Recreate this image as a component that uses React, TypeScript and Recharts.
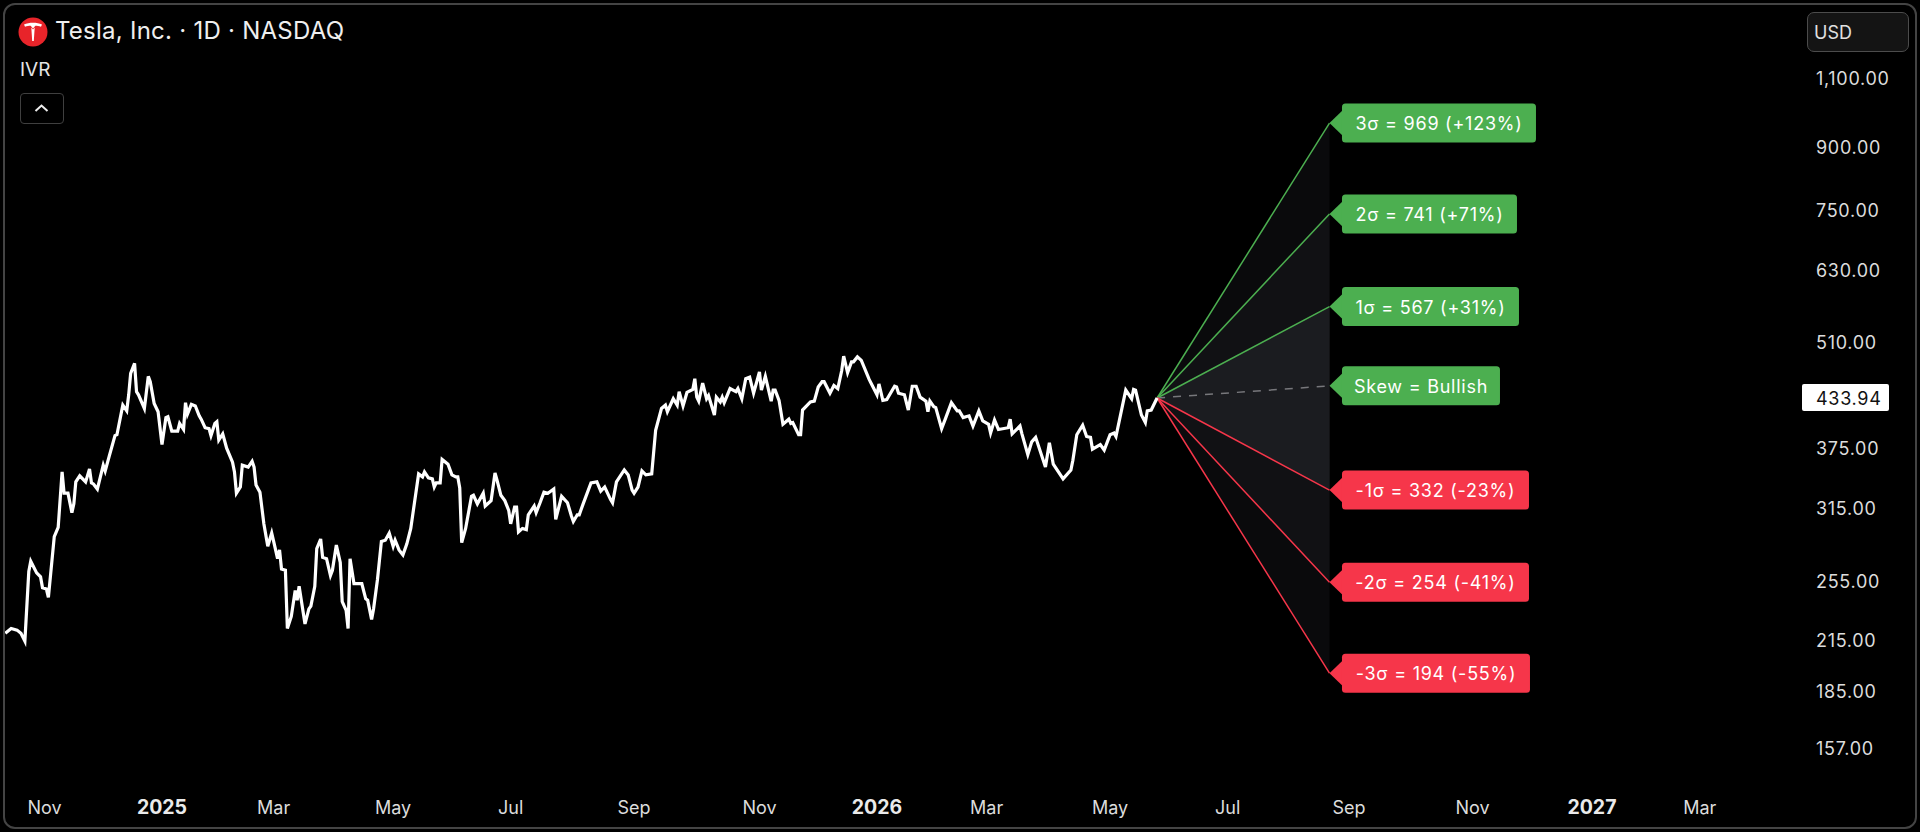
import React from 'react'
import { ComposedChart, Area, Line, XAxis, YAxis, ReferenceDot } from 'recharts'

// days counted from 2025-01-01
const dayOffsets = [
  -80, -77, -74, -72, -70, -68, -67, -64, -62, -61,
  -59, -58, -55, -53, -51, -50, -48, -46, -45, -44,
  -42, -39, -37, -36, -35, -33, -30, -29, -27, -24,
  -23, -20, -18, -17, -16, -14, -13, -12, -9, -7,
  -6, -4, -2, 0, 2, 3, 5, 8, 9, 11,
  12, 13, 15, 17, 19, 20, 22, 24, 25, 27,
  28, 29, 31, 33, 36, 37, 38, 40, 41, 44,
  46, 47, 48, 50, 52, 54, 56, 57, 59, 60,
  61, 63, 64, 66, 68, 69, 70, 73, 75, 76,
  78, 79, 81, 82, 84, 86, 87, 89, 91, 92,
  94, 95, 96, 98, 102, 104, 105, 107, 108, 110,
  112, 114, 116, 118, 119, 121,
  123, 125, 127, 131, 133, 134, 136, 138, 139, 140,
  142, 143, 146, 148, 150, 151, 152, 153, 155, 158,
  159, 161, 164, 165, 168, 170, 171, 173, 175, 177,
  178, 180, 181, 182, 184, 186, 187, 190, 191, 193,
  195, 197, 200, 201, 204, 207, 209, 210, 212, 213,
  215, 219, 222, 224, 226, 229, 230, 232, 236, 238,
  240, 241, 243, 245, 247, 250, 252, 255, 257, 258,
  261, 263, 264, 266, 268, 271, 272, 273, 274, 276,
  278, 279, 282, 283, 285, 286, 287, 290, 293, 294,
  296, 298, 300, 302, 305, 306, 308, 311, 312, 313,
  315, 317, 320, 321, 322, 325, 326,
  327, 331, 333, 335, 337, 338, 341, 343, 345, 347,
  348, 350, 352, 353, 355, 357, 361, 362, 365, 366,
  368, 370, 374, 375, 376, 379, 381, 383, 385, 387,
  390, 391, 392, 394, 395, 398, 400, 403, 406, 407,
  409, 412, 414, 417, 419, 422, 423, 425, 427, 432,
  433, 434, 438,
  439, 442, 444, 446, 451, 453, 455, 460, 464, 465,
  467, 470, 472, 474, 475, 479, 481, 484, 486, 487,
  492, 495, 496, 497, 500, 502, 503, 505, 508,
]

const closes = [
  219, 222, 221, 219, 214, 262, 270, 261, 258, 250,
  249, 243, 290, 298, 350, 329, 329, 311, 319, 340,
  346, 340, 353, 339, 338, 333, 357, 351, 366, 389,
  390, 425, 418, 438, 466, 480, 442, 438, 421, 462,
  455, 427, 417, 379, 410, 411, 394, 394, 403, 396,
  428, 414, 426, 424, 412, 408, 398, 397, 389, 403,
  405, 384, 391, 375, 360, 350, 329, 335, 357, 355,
  361, 355, 337, 330, 301, 282, 293, 286, 272, 279,
  264, 263, 222, 230, 248, 241, 251, 225, 235, 237,
  251, 280, 288, 273, 272, 259, 263, 283, 269, 240,
  234, 222, 272, 253, 253, 242, 241, 228, 235, 256,
  286, 287, 293, 282, 287, 279,
  275, 284, 297, 348, 345, 350, 344, 343, 335, 339,
  339, 363, 358, 347, 345, 345, 334, 285, 297, 326,
  327, 319, 329, 317, 322, 349, 342, 327, 322, 313,
  301, 316, 316, 294, 297, 296, 309, 317, 311, 320,
  330, 329, 333, 305, 326, 320, 308, 303, 309, 309,
  319, 339, 340, 331, 335, 323, 320, 340, 352, 347,
  332, 329, 335, 351, 347, 348, 395, 421, 425, 417,
  433, 425, 442, 424, 441, 445, 459, 435, 430, 453,
  433, 437, 413, 435, 429, 435, 428, 446, 442, 446,
  433, 459, 461, 440, 468, 444, 462, 430, 444, 444,
  431, 402, 408, 403, 404, 390, 390,
  419, 429, 430, 448, 455, 455, 440, 450, 446, 470,
  490, 467, 482, 482, 489, 484, 458, 453, 438, 452,
  431, 432, 449, 448, 440, 438, 419, 449, 449, 435,
  430, 417, 430, 423, 422, 397, 409, 428, 418, 418,
  410, 412, 400, 418, 406, 402, 392, 407, 396, 398,
  408, 391, 400,
  391, 368, 382, 387, 355, 381, 358, 343, 352, 362,
  390, 401, 388, 387, 374, 379, 373, 390, 392, 388,
  444, 433, 445, 444, 413, 404, 418, 419, 433.94,
]

const lastClose = 433.94
const fanEndDay = 596
const fanKeys = ['up3', 'up2', 'up1', 'skew', 'down1', 'down2', 'down3']
const fanTargets = [965, 741, 566, 449.5, 332, 254, 195]
const fanLabels = [
  '3σ = 969 (+123%)',
  '2σ = 741 (+71%)',
  '1σ = 567 (+31%)',
  'Skew = Bullish',
  '-1σ = 332 (-23%)',
  '-2σ = 254 (-41%)',
  '-3σ = 194 (-55%)',
]

const priceTicks = [1100, 900, 750, 630, 510, lastClose, 375, 315, 255, 215, 185, 157]
const tickDays = [-60, 0, 57, 118, 178, 241, 305, 365, 421, 484, 544, 606, 669, 730, 785]
const tickLabels = ['Nov', '2025', 'Mar', 'May', 'Jul', 'Sep', 'Nov', '2026', 'Mar', 'May', 'Jul', 'Sep', 'Nov', '2027', 'Mar']

const GREEN = '#4CAF50'
const RED = '#F6364A'
const FONT = 'Inter, sans-serif'
const flagColors = [GREEN, GREEN, GREEN, GREEN, RED, RED, RED]
const flagWidths = [194, 175, 177, 158, 187, 187, 188]

const originRow: any = { day: 508, close: lastClose }
const endRow: any = { day: fanEndDay }
fanKeys.forEach((k, i) => {
  originRow[k] = lastClose
  endRow[k] = fanTargets[i]
})
originRow.band1 = [lastClose, lastClose]
originRow.band2 = [lastClose, lastClose]
originRow.band3 = [lastClose, lastClose]
endRow.band1 = [fanTargets[4], fanTargets[2]]
endRow.band2 = [fanTargets[5], fanTargets[1]]
endRow.band3 = [fanTargets[6], fanTargets[0]]

const chartData = [
  ...dayOffsets.slice(0, -1).map((day, i) => ({ day, close: closes[i] })),
  originRow,
  endRow,
]

const fmtPrice = (v: number) =>
  v.toLocaleString('en-US', { minimumFractionDigits: 2, maximumFractionDigits: 2 })

const PriceTick = ({ x, y, payload }: any) => {
  const last = payload.value === lastClose
  return (
    <g>
      {last && <rect x={x - 6} y={y - 14} width={87} height={27} rx={2} fill="#fff" />}
      <text
        x={x + 8}
        y={y + 0.5}
        dominantBaseline="central"
        fontFamily={FONT}
        fontSize={18}
        letterSpacing={0.7}
        fill={last ? '#111' : '#dcdcdc'}
      >
        {fmtPrice(payload.value)}
      </text>
    </g>
  )
}

const TimeTick = ({ x, y, payload }: any) => {
  const label = tickLabels[tickDays.indexOf(payload.value)]
  const year = /^\d+$/.test(label)
  return (
    <text
      x={x}
      y={y + 27}
      textAnchor="middle"
      dominantBaseline="central"
      fontFamily={FONT}
      fontSize={year ? 19.5 : 18}
      fontWeight={year ? 700 : 400}
      fill={year ? '#eaeaea' : '#dcdcdc'}
    >
      {label}
    </text>
  )
}

const flagShape = (i: number) => ({ cx, cy }: any) => {
  const left = cx + 12.5
  return (
    <g>
      <path d={`M${cx} ${cy}L${left + 1} ${cy - 13}V${cy + 13}Z`} fill={flagColors[i]} />
      <rect x={left} y={cy - 19.5} width={flagWidths[i]} height={39} rx={3.5} fill={flagColors[i]} />
      <text
        x={left + flagWidths[i] / 2}
        y={cy + 0.5}
        textAnchor="middle"
        dominantBaseline="central"
        fontFamily={FONT}
        fontSize={18}
        letterSpacing={0.75}
        fill="#fff"
      >
        {fanLabels[i]}
      </text>
    </g>
  )
}

const TeslaMark = () => (
  <svg width={30} height={30} viewBox="-15 -15 30 30" style={{ position: 'absolute', left: 18, top: 17 }}>
    <circle r={14.5} fill="#E8242A" />
    <path d="M-9 -7.5C-4 -10 4 -10 9 -7.5L8 -5.2C6 -6 4 -6.3 2.4 -6.3L0 -3.4L-2.4 -6.3C-4 -6.3 -6 -6 -8 -5.2Z" fill="#fff" />
    <path d="M-1.7 -4.4L0 -2.5L1.7 -4.4L0.8 9H-0.8Z" fill="#fff" />
  </svg>
)

export default function App() {
  return (
    <div style={{ position: 'fixed', left: 0, top: 0, width: 1920, height: 832, background: '#000', overflow: 'hidden' }}>
      <ComposedChart width={1920} height={832} data={chartData} margin={{ top: 0, right: 0, bottom: 0, left: 0 }}>
        <XAxis
          dataKey="day"
          type="number"
          domain={[-82.7, 836.2]}
          ticks={tickDays}
          interval={0}
          height={60}
          axisLine={false}
          tickLine={false}
          tick={<TimeTick />}
        />
        <YAxis
          orientation="right"
          type="number"
          scale="log"
          domain={[146.3, 1380]}
          ticks={priceTicks}
          interval={0}
          width={120}
          axisLine={false}
          tickLine={false}
          tick={<PriceTick />}
          allowDataOverflow
        />
        <Area dataKey="band3" stroke="none" fill="#0A0A0C" fillOpacity={1} isAnimationActive={false} dot={false} activeDot={false} />
        <Area dataKey="band2" stroke="none" fill="#111114" fillOpacity={1} isAnimationActive={false} dot={false} activeDot={false} />
        <Area dataKey="band1" stroke="none" fill="#1B1C20" fillOpacity={1} isAnimationActive={false} dot={false} activeDot={false} />
        {fanKeys.map((k, i) => (
          <Line
            key={k}
            dataKey={k}
            stroke={k === 'skew' ? '#77777B' : flagColors[i]}
            strokeWidth={1.5}
            strokeDasharray={k === 'skew' ? '8 8' : undefined}
            dot={false}
            activeDot={false}
            isAnimationActive={false}
          />
        ))}
        <Line dataKey="close" stroke="#fff" strokeWidth={3.2} dot={false} activeDot={false} isAnimationActive={false} />
        {fanKeys.map((k, i) => (
          <ReferenceDot key={k} x={fanEndDay} y={fanTargets[i]} shape={flagShape(i)} />
        ))}
      </ComposedChart>

      <div style={{ position: 'absolute', left: 3, top: 3, width: 1910, height: 822, border: '2px solid #444', borderRadius: 12, pointerEvents: 'none' }} />
      <TeslaMark />
      <div style={{ position: 'absolute', left: 55, top: 16, fontFamily: FONT, fontSize: 24, letterSpacing: 0.25, lineHeight: '30px', color: '#efefef', whiteSpace: 'nowrap' }}>
        Tesla, Inc. · 1D · NASDAQ
      </div>
      <div style={{ position: 'absolute', left: 20, top: 59, fontFamily: FONT, fontSize: 19, lineHeight: '22px', color: '#e4e4e4' }}>IVR</div>
      <div style={{ position: 'absolute', left: 20, top: 93, width: 44, height: 31, boxSizing: 'border-box', border: '1.5px solid #3f3f3f', borderRadius: 4 }}>
        <svg width={41} height={28} style={{ display: 'block' }}>
          <path d="M14.5 17L20.5 11.5L26.5 17" fill="none" stroke="#eee" strokeWidth={2} />
        </svg>
      </div>
      <div style={{ position: 'absolute', left: 1807, top: 12, width: 102, height: 40, boxSizing: 'border-box', background: '#141414', border: '1.5px solid #4c4c4c', borderRadius: 7, fontFamily: FONT, fontSize: 18, lineHeight: '39px', paddingLeft: 6, color: '#e0e0e0' }}>
        USD
      </div>
    </div>
  )
}
